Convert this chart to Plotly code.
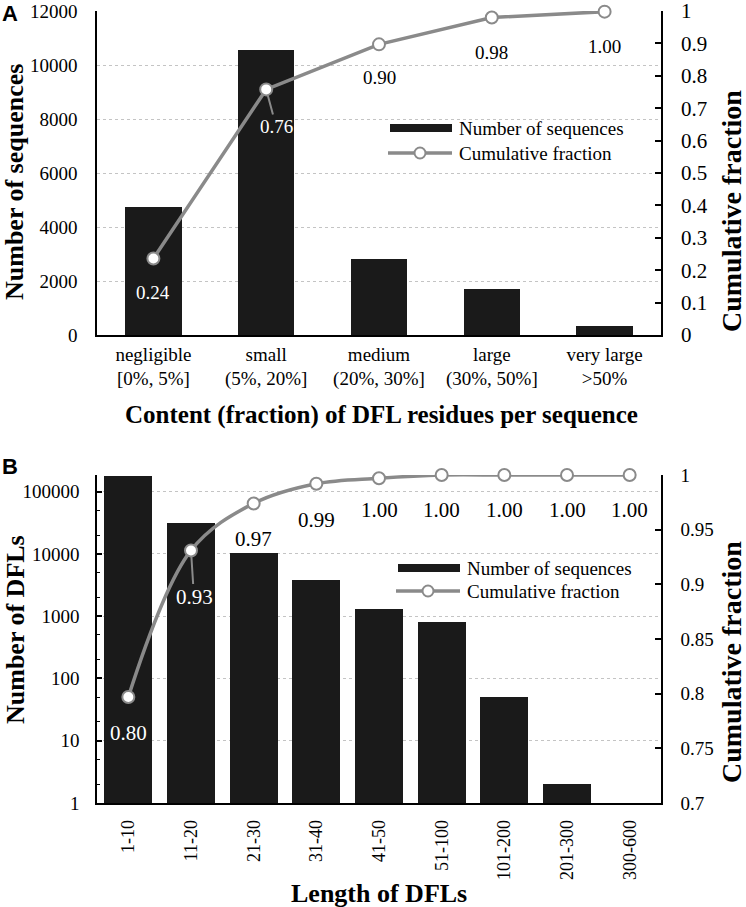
import plotly.graph_objects as go

# ---------------- data ----------------
content_names = ["negligible", "small", "medium", "large", "very large"]
content_ranges = ["[0%, 5%]", "(5%, 20%]", "(20%, 30%]", "(30%, 50%]", "&gt;50%"]
content_counts = [4750, 10550, 2820, 1690, 340]
content_cum = [0.236, 0.758, 0.897, 0.980, 0.998]

length_cats = ["1-10", "11-20", "21-30", "31-40", "41-50", "51-100", "101-200", "201-300", "300-600"]
length_counts = [178000, 31000, 10200, 3800, 1330, 810, 50, 2, 1]
length_cum = [0.797, 0.931, 0.974, 0.992, 0.997, 1.0, 1.0, 1.0, 1.0]

log_ticks = [1, 10, 100, 1000, 10000, 100000]

# ---------------- style ----------------
W, H = 746, 907
SERIF = "Liberation Serif, Times New Roman, serif"
BAR_C = "#1a1a1a"
LINE_C = "#8a8a8a"
GRID_C = "#c4c4c4"


def px(x):
    return x / W


def py(y):
    return 1 - y / H


XDOM = [px(97), px(661)]
TOP_DOM = [py(335), py(11)]
BOT_DOM = [py(803), py(475)]

fig = go.Figure()

fig.add_trace(go.Bar(x=content_names, y=content_counts, xaxis="x", yaxis="y",
                     marker=dict(color=BAR_C, line=dict(width=0)), width=0.5,
                     name="Number of sequences", showlegend=False))
fig.add_trace(go.Scatter(x=content_names, y=content_cum, xaxis="x", yaxis="y2",
                         mode="lines+markers", cliponaxis=False,
                         line=dict(color=LINE_C, width=3.5),
                         marker=dict(size=12, color="white", line=dict(color=LINE_C, width=2)),
                         name="Cumulative fraction", showlegend=False))

fig.add_trace(go.Bar(x=length_cats, y=length_counts, xaxis="x2", yaxis="y3",
                     marker=dict(color=BAR_C, line=dict(width=0)), width=0.77,
                     name="Number of sequences", showlegend=False))
fig.add_trace(go.Scatter(x=length_cats, y=length_cum, xaxis="x2", yaxis="y4",
                         mode="lines+markers", cliponaxis=False,
                         line=dict(color=LINE_C, width=3.5, shape="spline", smoothing=1.0),
                         marker=dict(size=12, color="white", line=dict(color=LINE_C, width=2)),
                         name="Cumulative fraction", showlegend=False))

tickfont = dict(family=SERIF, size=19, color="black")
axline = dict(showline=True, linecolor="black", linewidth=1.5)
grid = dict(showgrid=True, gridcolor=GRID_C, gridwidth=1, griddash="3px,3px")

fig.update_layout(
    width=W, height=H,
    margin=dict(l=0, r=0, t=0, b=0, autoexpand=False),
    paper_bgcolor="white", plot_bgcolor="white",
    showlegend=False,
    bargap=0,
    xaxis=dict(domain=XDOM, anchor="y", type="category", range=[-0.5, 4.5],
               tickvals=content_names,
               ticktext=[f"{n}<br>{r}" for n, r in zip(content_names, content_ranges)],
               ticks="", tickfont=tickfont, ticklabelstandoff=1, showgrid=False,
               automargin=False, **axline),
    yaxis=dict(domain=TOP_DOM, anchor="x", range=[0, 12000], dtick=2000, tickformat="d",
               ticks="", tickfont=tickfont, ticklabelstandoff=14, zeroline=False,
               ticklabeloverflow="allow", automargin=False, **grid, **axline),
    yaxis2=dict(overlaying="y", anchor="x", side="right", range=[0, 1], dtick=0.1,
                ticks="inside", ticklen=6, tickcolor="black", tickwidth=1.5,
                tickfont=dict(family=SERIF, size=21, color="black"), ticklabelstandoff=14,
                ticklabeloverflow="allow",
                showgrid=False, zeroline=False, automargin=False, **axline),
    xaxis2=dict(domain=XDOM, anchor="y3", type="category", range=[-0.5, 8.5],
                ticks="", tickangle=-90, tickfont=dict(family=SERIF, size=18, color="black"),
                ticklabelstandoff=8, showgrid=False, automargin=False, **axline),
    yaxis3=dict(domain=BOT_DOM, anchor="x2", type="log", range=[0, 5.268],
                tickvals=log_ticks, ticktext=[str(v) for v in log_ticks],
                ticks="inside", ticklen=5, tickcolor="black", tickwidth=1.5,
                minor=dict(ticks="inside", ticklen=3, tickcolor="black", tickwidth=1, showgrid=False),
                tickfont=tickfont, ticklabelstandoff=12, zeroline=False,
                ticklabeloverflow="allow", automargin=False, **grid, **axline),
    yaxis4=dict(overlaying="y3", anchor="x2", side="right", range=[0.7, 1], dtick=0.05,
                ticks="inside", ticklen=6, tickcolor="black", tickwidth=1.5,
                tickfont=dict(family=SERIF, size=19, color="black"), ticklabelstandoff=14,
                ticklabeloverflow="allow",
                showgrid=False, zeroline=False, automargin=False, **axline),
)

ann = []


def txt(x, y, text, size, angle=0, bold=True, family=SERIF, xanchor="center"):
    t = f"<b>{text}</b>" if bold else text
    ann.append(dict(x=px(x), y=py(y), xref="paper", yref="paper", text=t, showarrow=False,
                    textangle=angle, xanchor=xanchor, yanchor="middle",
                    font=dict(family=family, size=size, color="black")))


# panel letters
txt(10, 13, "A", 22, family="Liberation Sans, Arial, sans-serif")
txt(10, 466, "B", 22, family="Liberation Sans, Arial, sans-serif")

# axis titles
txt(15, 182, "Number of sequences", 26, angle=-90)
txt(731, 211, "Cumulative fraction", 28, angle=-90)
txt(381, 415, "Content (fraction) of DFL residues per sequence", 25)
txt(15, 630, "Number of DFLs", 26, angle=-90)
txt(731, 662, "Cumulative fraction", 28, angle=-90)
txt(379, 893, "Length of DFLs", 26)

# point labels, top chart
top_shift = [-34, None, -33, -35, -35]
top_color = ["white", "white", "black", "black", "black"]
for i, (c, v) in enumerate(zip(content_names, content_cum)):
    lab = f"{v:.2f}"
    if top_shift[i] is None:
        ann.append(dict(x=c, y=v, xref="x", yref="y2", text=lab, showarrow=True,
                        arrowhead=0, arrowwidth=2, arrowcolor=LINE_C, ax=10, ay=37,
                        standoff=6, startstandoff=0,
                        font=dict(family=SERIF, size=19, color=top_color[i])))
    else:
        ann.append(dict(x=c, y=v, xref="x", yref="y2", text=lab, showarrow=False,
                        yshift=top_shift[i],
                        font=dict(family=SERIF, size=19, color=top_color[i])))

# point labels, bottom chart
bot_shift = [-36, None, -36, -36, -32, -35, -35, -35, -35]
bot_color = ["white", "white"] + ["black"] * 7
for i, (c, v) in enumerate(zip(length_cats, length_cum)):
    lab = f"{v:.2f}"
    if bot_shift[i] is None:
        ann.append(dict(x=c, y=v, xref="x2", yref="y4", text=lab, showarrow=True,
                        arrowhead=0, arrowwidth=2, arrowcolor=LINE_C, ax=3, ay=47,
                        standoff=6, startstandoff=0,
                        font=dict(family=SERIF, size=21, color=bot_color[i])))
    else:
        ann.append(dict(x=c, y=v, xref="x2", yref="y4", text=lab, showarrow=False,
                        yshift=bot_shift[i],
                        font=dict(family=SERIF, size=21, color=bot_color[i])))

# manual legends
shapes = []


def legend(x0, y_bar, y_line):
    shapes.append(dict(type="rect", xref="paper", yref="paper",
                       x0=px(x0), x1=px(x0 + 62), y0=py(y_bar + 4), y1=py(y_bar - 4),
                       fillcolor=BAR_C, line=dict(width=0)))
    shapes.append(dict(type="line", xref="paper", yref="paper",
                       x0=px(x0 - 2), x1=px(x0 + 62), y0=py(y_line), y1=py(y_line),
                       line=dict(color=LINE_C, width=3.5)))
    cx = x0 + 30
    shapes.append(dict(type="circle", xref="paper", yref="paper",
                       x0=px(cx - 5.5), x1=px(cx + 5.5), y0=py(y_line + 5.5), y1=py(y_line - 5.5),
                       fillcolor="white", line=dict(color=LINE_C, width=2)))
    for yy, t in ((y_bar, "Number of sequences"), (y_line, "Cumulative fraction")):
        ann.append(dict(x=px(x0 + 67), y=py(yy), xref="paper", yref="paper", text=t,
                        showarrow=False, xanchor="left", yanchor="middle",
                        font=dict(family=SERIF, size=19, color="black")))


legend(390, 128, 153)
legend(398, 568, 591)

fig.update_layout(annotations=ann, shapes=shapes)

fig.write_html(
    "out.html",
    config={"displayModeBar": False},
    post_script="document.documentElement.style.margin='0';"
                "document.body.style.margin='0';document.body.style.padding='0';"
                "document.body.style.overflow='hidden';",
)
